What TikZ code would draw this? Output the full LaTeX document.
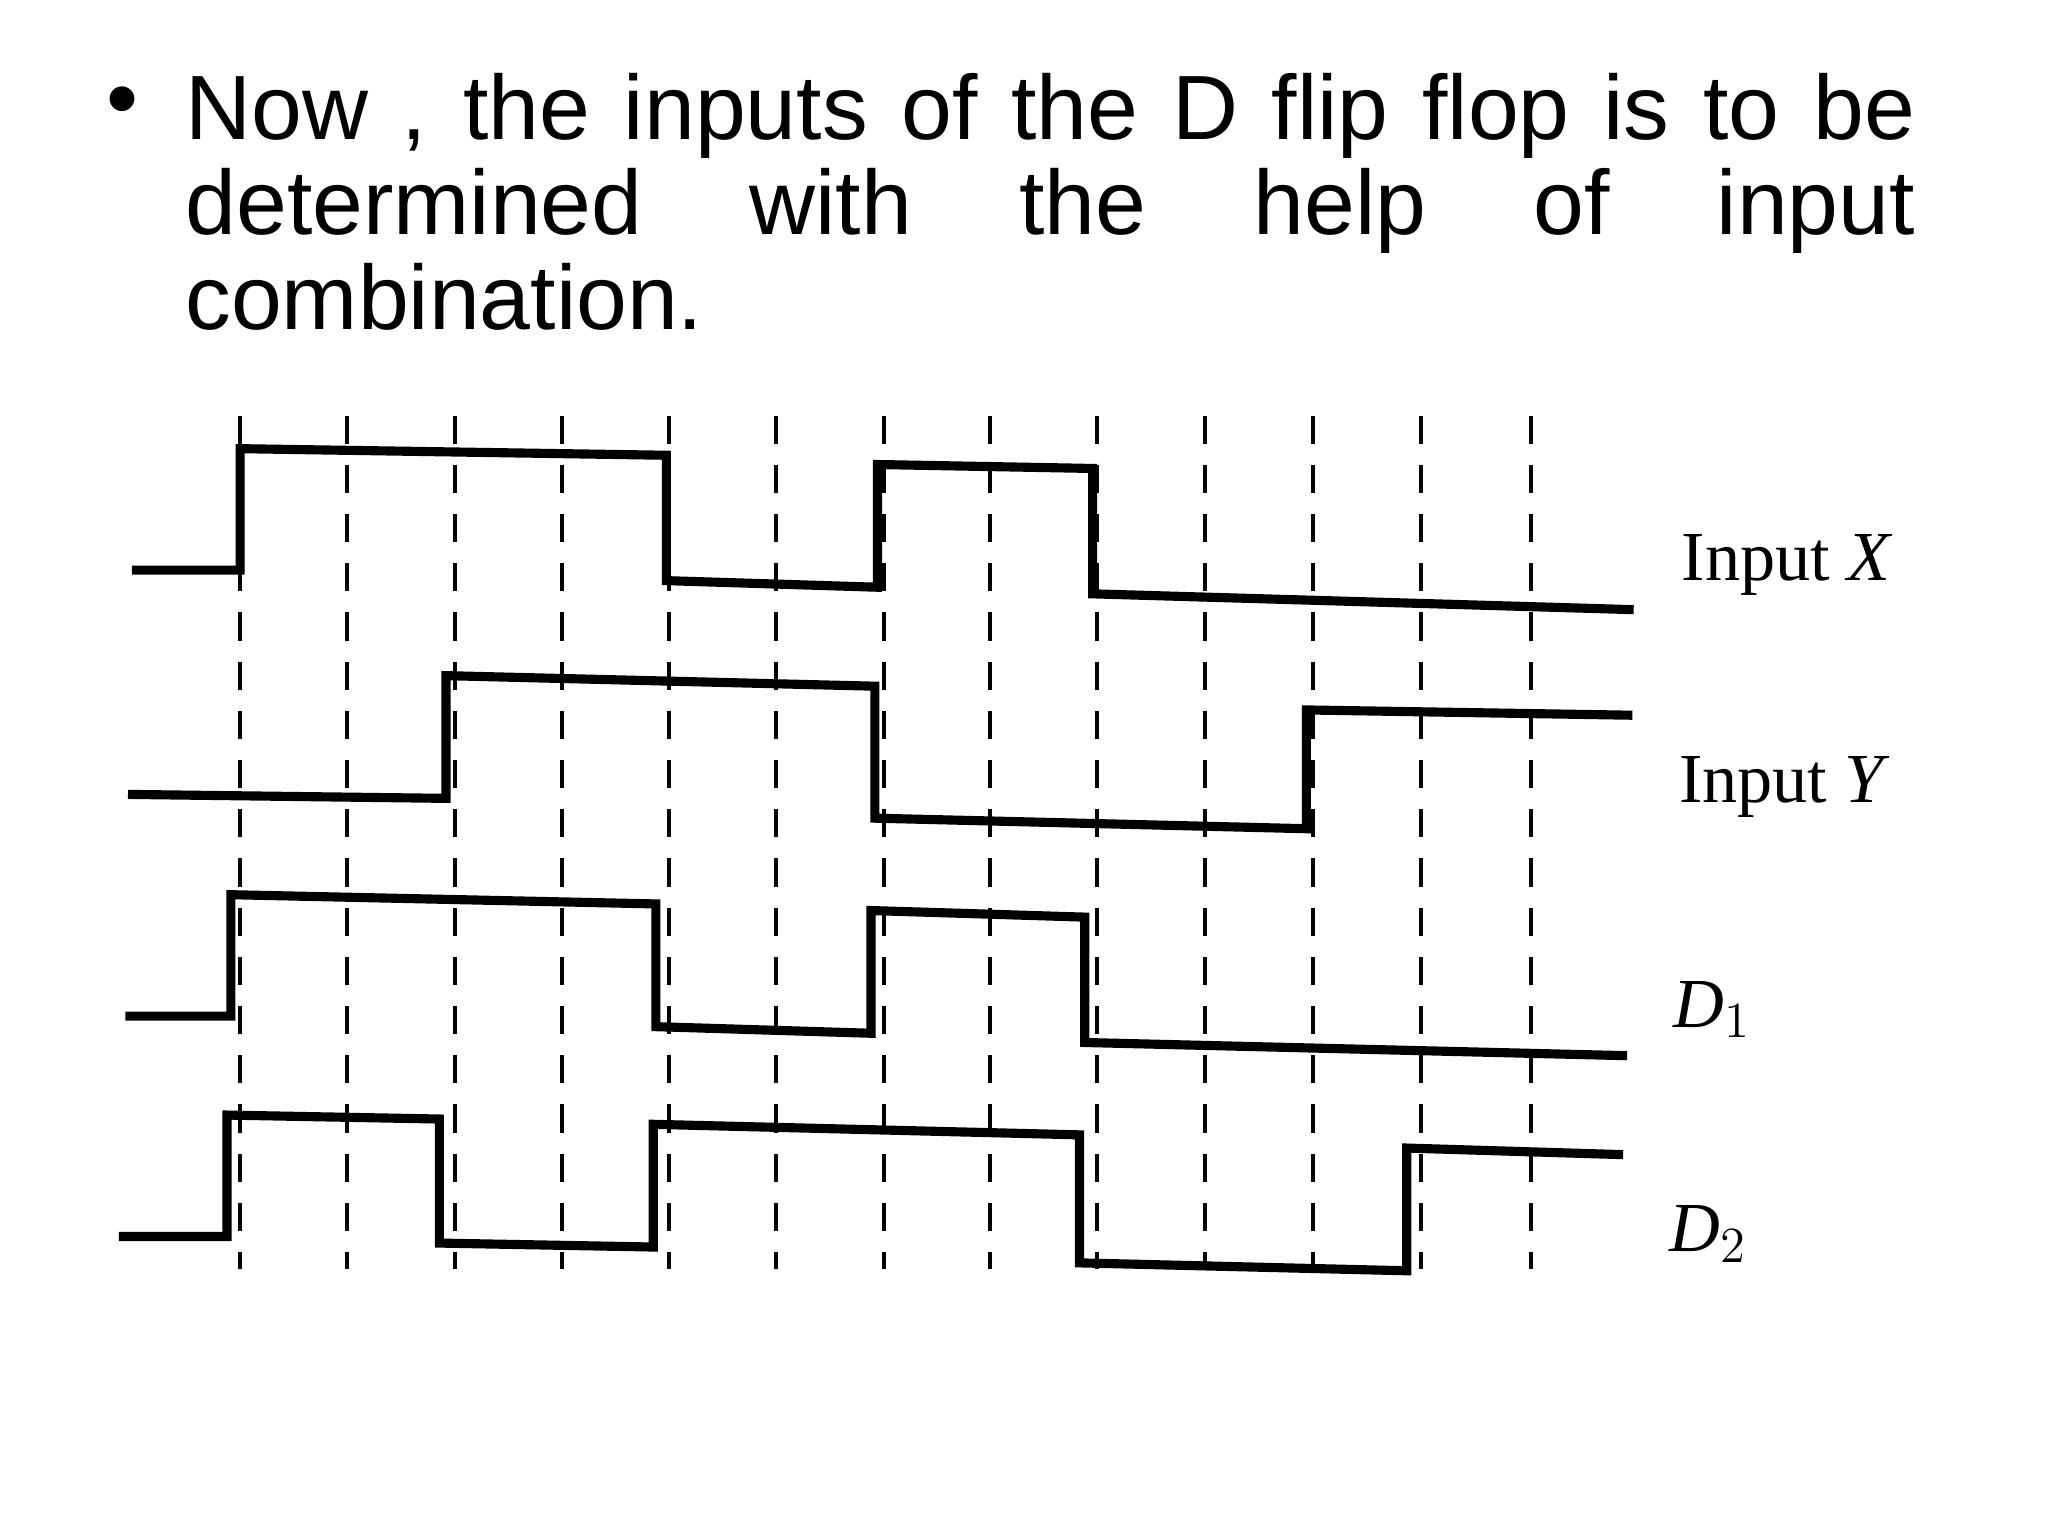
\documentclass[tikz,border=0pt]{standalone}
\usepackage{fontspec}
\setmainfont{Liberation Sans}
\newfontfamily\lblfont{Liberation Serif}
\begin{document}
\begin{tikzpicture}[x=0.0132cm,y=-0.0132cm,
  wave/.style={line width=2.6pt,line join=miter},
  grid/.style={line width=1.1pt,dash pattern=on 8pt off 6pt},
  lbl/.style={font=\lblfont\fontsize{20}{22}\selectfont,anchor=west}]
\useasboundingbox (0,0) rectangle (1552,1164);
\node[anchor=north west,text width=17.3cm,align=justify,inner sep=0pt,
  font=\fontsize{26}{27}\selectfont] (title) at (140,55)
  {\hyphenpenalty=10000 Now , the inputs of the D flip flop is to be\linebreak determined with the help of input\linebreak combination.};
\node[anchor=north west,inner sep=0pt,font=\fontsize{26}{27}\selectfont] (bul) at (80,65) {•};
\foreach \x [count=\i] in {182,263,345,426,507,588,670,750,831,913,995,1077,1160}{
  \coordinate (t\i) at (\x,315); \coordinate (b\i) at (\x,962);
  \draw[grid] (t\i) -- (b\i);}
\draw[wave] (100,432) -- (182,432) -- (182,340) -- (505,345) -- (505,440) -- (665,445) -- (665,352) -- (828,355) -- (828,450) -- (1238,462);
\draw[wave] (97,602) -- (338,605) -- (338,512) -- (663,520) -- (663,620) -- (990,628) -- (990,538) -- (1237,542);
\draw[wave] (95,770) -- (175,770) -- (175,678) -- (497,685) -- (497,778) -- (660,783) -- (660,690) -- (822,695) -- (822,790) -- (1233,800);
\draw[wave] (90,937) -- (172,937) -- (172,845) -- (333,848) -- (333,942) -- (495,945) -- (495,852) -- (818,860) -- (818,957) -- (1066,963) -- (1066,870) -- (1230,875);
\node[lbl] (lx) at (1265,428) {Input \textit{X}};
\node[lbl] (ly) at (1263,596) {Input \textit{Y}};
\node[lbl] (ld1) at (1259,765) {\textit{D}$_1$};
\node[lbl] (ld2) at (1256,935) {\textit{D}$_2$};
\end{tikzpicture}
\end{document}
